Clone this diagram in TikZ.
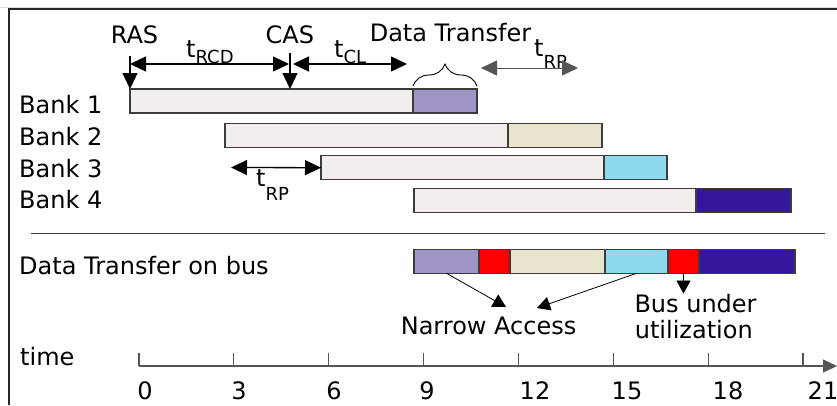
\documentclass[tikz,border=0pt]{standalone}
\usepackage{fontspec}
\setmainfont{DejaVu Sans}
\usetikzlibrary{arrows.meta,positioning,decorations.pathreplacing}

\definecolor{barlight}{HTML}{F2EEEE}
\definecolor{barline}{HTML}{3C3C3C}
\definecolor{dtpurple}{HTML}{A093C6}
\definecolor{dtbeige}{HTML}{E9E5CD}
\definecolor{dtcyan}{HTML}{8DDAEE}
\definecolor{dtnavy}{HTML}{35179B}
\definecolor{axisgray}{HTML}{555555}

% t with a lowered subscript
\newcommand{\tsub}[2][10pt]{t\raisebox{-#1}{\fontsize{18}{18}\selectfont #2}}

\begin{document}
\begin{tikzpicture}[x=1pt, y=-1pt,
    lbl/.style = {font=\fontsize{24}{28}\selectfont, inner sep=0pt, anchor=base west},
    bar/.style = {draw=barline, line width=1.2pt, minimum height=24pt, inner sep=0pt, outer sep=0pt},
    arr/.style = {line width=1.3pt, -{Triangle[length=16pt,width=15pt]}},
    darr/.style = {line width=1.3pt, {Triangle[length=16pt,width=15pt]}-{Triangle[length=16pt,width=15pt]}},
    thinarr/.style = {line width=0.8pt, -{Triangle[length=13pt,width=14pt]}},
  ]
  \useasboundingbox (0,0) rectangle (837,405);
  \draw[gray!25, line width=0.8pt] (0,7.3) -- (837,7.3);
  \draw[line width=1.3pt, black!85] (9,405) -- (9,9) -- (837,9);

  % bank rows
  \node[lbl] (bank1) at (19,113) {Bank 1};
  \node[lbl] (bank2) at (19,145) {Bank 2};
  \node[lbl] (bank3) at (19,177) {Bank 3};
  \node[lbl] (bank4) at (19,208) {Bank 4};

  \node[bar, fill=barlight, minimum width=283pt, anchor=north west] (b1) at (130,89) {};
  \node[bar, fill=dtpurple, minimum width=64pt, right=0pt of b1] (b1d) {};
  \node[bar, fill=barlight, minimum width=283pt, anchor=north west] (b2) at (225,123.3) {};
  \node[bar, fill=dtbeige, minimum width=94pt, right=0pt of b2] (b2d) {};
  \node[bar, fill=barlight, minimum width=283pt, anchor=north west] (b3) at (321,155.7) {};
  \node[bar, fill=dtcyan, minimum width=63pt, right=0pt of b3] (b3d) {};
  \node[bar, fill=barlight, minimum width=282pt, anchor=north west] (b4) at (414,188.7) {};
  \node[bar, fill=dtnavy, minimum width=95pt, right=0pt of b4] (b4d) {};

  % commands and timings
  \node[lbl] (ras) at (110.6,43) {RAS};
  \node[lbl] (cas) at (265.4,43) {CAS};
  \node[lbl] (dtlabel) at (369.6,41) {Data Transfer};
  \node[lbl] (trcd) at (186,57) {\tsub[6pt]{RCD}};
  \node[lbl] (tcl) at (334,57) {\tsub[6pt]{CL}};
  \node[lbl] (trptop) at (534,56) {\tsub[12pt]{RP}};
  \node[lbl] (trpb3) at (256,186) {\tsub[14pt]{RP}};

  \coordinate (rasTop) at (130,56);
  \coordinate (casTop) at (290,53);
  \draw[arr] (rasTop) -- (b1.north west);
  \draw[arr] (casTop) -- (casTop |- b1.north);
  \coordinate (rcdL) at (130,64);
  \coordinate (rcdR) at (289,64);
  \coordinate (clL) at (293,64);
  \coordinate (clR) at (407,64);
  \draw[darr] (rcdL) -- (rcdR);
  \draw[darr] (clL) -- (clR);
  \coordinate (rpL) at (481,68);
  \coordinate (rpR) at (578,68);
  \draw[darr, draw=axisgray, line width=1pt] (rpL) -- (rpR);
  \coordinate (rpB3) at (231,167.5);
  \draw[darr] (rpB3) -- (b3.west);
  \draw[line width=0.9pt, decorate, decoration={brace, amplitude=22pt}]
    ([yshift=3pt]b1d.north west) -- ([yshift=3pt]b1d.north east);

  \draw[barline, line width=1pt] (31,233) -- (825,233);

  % data bus
  \node[lbl] (buslabel) at (19,274) {Data Transfer on bus};
  \node[bar, fill=dtpurple, minimum width=65pt, anchor=north west] (bus1) at (414,249.3) {};
  \node[bar, fill=red, minimum width=31pt, right=0pt of bus1] (bus2) {};
  \node[bar, fill=dtbeige, minimum width=95pt, right=0pt of bus2] (bus3) {};
  \node[bar, fill=dtcyan, minimum width=63pt, right=0pt of bus3] (bus4) {};
  \node[bar, fill=red, minimum width=31pt, right=0pt of bus4] (bus5) {};
  \node[bar, fill=dtnavy, minimum width=96pt, right=0pt of bus5] (bus6) {};

  \node[lbl] (narrow) at (400.6,334) {Narrow Access};
  \node[lbl] (busunder) at (634.3,312) {Bus under};
  \node[lbl] (utiliz) at (634.6,338) {utilization};
  \coordinate (naL) at (506,307);
  \coordinate (naR) at (537,308);
  \draw[thinarr] (bus1.south) -- (naL);
  \draw[thinarr] (bus4.south) -- (naR);
  \draw[thinarr] (bus5.south) -- (bus5.south |- busunder.north);

  % time axis
  \node[lbl] (timelabel) at (20,365) {time};
  \coordinate (axL) at (139,366);
  \coordinate (axR) at (836,366);
  \draw[axisgray, line width=1.2pt, -{Triangle[length=14pt,width=13pt]}, shorten >=-1pt] (axL) -- (axR);
  \foreach \i in {0,...,7}
    \draw[axisgray, line width=1.2pt] ([xshift=94.86*\i pt]axL) -- ++(0,-13);
  \foreach \x/\t in {145/0, 239/3, 334/6, 427/9, 535/12, 627/15, 728/18, 823/21}
    \node[lbl, anchor=base] (tick\t) at (\x,399) {\t};
\end{tikzpicture}
\end{document}
